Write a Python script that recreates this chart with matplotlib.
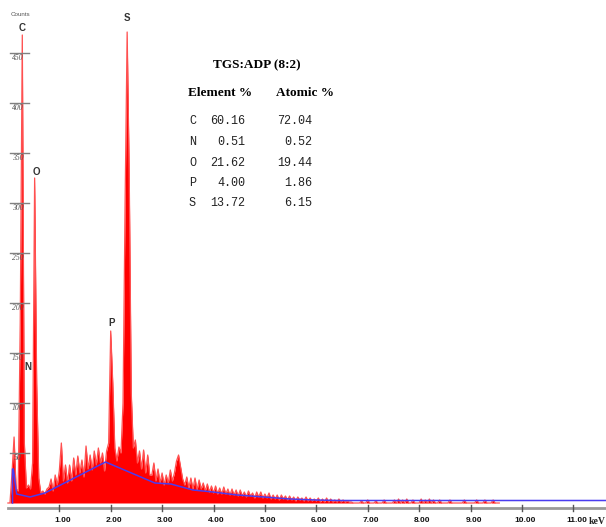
import numpy as np
import matplotlib.pyplot as plt
from matplotlib import font_manager

# EDS spectrum of TGS:ADP (8:2), counts per 0.04 keV channel
channel_kev = 0.04
counts = [
    0, 0, 30, 66, 14, 12, 180, 468, 60, 15,        # 0.00 - 0.36
    18, 14, 40, 325, 120, 25, 10, 12, 9, 14,       # 0.40 - 0.76
    16, 24, 12, 28, 18, 32, 60, 22, 38, 20,        # 0.80 - 1.16
    38, 22, 45, 28, 47, 30, 43, 26, 57, 34,        # 1.20 - 1.56
    48, 33, 52, 38, 55, 40, 50, 32, 52, 60,        # 1.60 - 1.96
    172, 120, 55, 42, 56, 50, 100, 300, 471, 330,  # 2.00 - 2.36
    110, 55, 63, 40, 52, 34, 53, 30, 48, 28,       # 2.40 - 2.76
    28, 40, 22, 34, 20, 30, 18, 28, 20, 33,        # 2.80 - 3.16
    22, 30, 42, 48, 36, 24, 18, 26, 15, 25,        # 3.20 - 3.56
    14, 25, 13, 23, 14, 20, 12, 19, 11, 17,        # 3.60 - 3.96
    10, 17, 9, 15, 9, 16, 9, 14, 8, 14,            # 4.00 - 4.36
    8, 13, 7, 13, 7, 11, 6, 12, 7, 10,             # 4.40 - 4.76
    5, 11, 6, 11, 5, 9, 5, 10, 4, 8,               # 4.80 - 5.16
    4, 8, 3, 8, 4, 7, 3, 7, 3, 6,                  # 5.20 - 5.56
    2, 6, 3, 5, 2, 6, 2, 5, 2, 4,                  # 5.60 - 5.96
    2, 5, 1, 4, 1, 5, 1, 4, 1, 3,                  # 6.00 - 6.36
    1, 4, 1, 3, 1, 2, 1, 1, 0, 0,                  # 6.40 - 6.76
    0, 0, 2, 0, 0, 3, 0, 0, 0, 2,                  # 6.80 - 7.16
    0, 0, 0, 3, 0, 0, 0, 0, 3, 0,                  # 7.20 - 7.56
    4, 0, 3, 0, 4, 0, 0, 3, 0, 0,                  # 7.60 - 7.96
    0, 4, 0, 3, 0, 4, 0, 3, 0, 0,                  # 8.00 - 8.36
    3, 0, 0, 0, 0, 3, 0, 0, 0, 0,                  # 8.40 - 8.76
    0, 0, 3, 0, 0, 0, 0, 0, 3, 0,                  # 8.80 - 9.16
    0, 0, 3, 0, 0, 0, 3, 0, 0, 0,                  # 9.20 - 9.56
]

# fitted background (blue line)
bg_kev = [0.09, 0.09, 0.105, 0.17, 0.43, 0.72, 1.90, 2.86, 3.17, 3.60,
          3.99, 4.46, 4.98, 5.49, 5.98, 6.46, 11.7]
bg_counts = [0, 34, 34, 9, 6, 10, 41, 20, 19, 13,
             11, 8, 6, 4, 3, 2.5, 2.5]

# quantification table
elements = ['C', 'N', 'O', 'P', 'S']
element_pct = ['60.16', '0.51', '21.62', '4.00', '13.72']
atomic_pct = ['72.04', '0.52', '19.44', '1.86', '6.15']

y_ticks = [50, 100, 150, 200, 250, 300, 350, 400, 450]
x_ticks = [1, 2, 3, 4, 5, 6, 7, 8, 9, 10, 11]

names = {f.name for f in font_manager.fontManager.ttflist}
narrow = 'Liberation Sans Narrow' if 'Liberation Sans Narrow' in names else 'Liberation Sans'

energy = np.arange(len(counts)) * channel_kev

fig = plt.figure(figsize=(6.06, 5.27), dpi=100)
ax = fig.add_axes([0, 0, 1, 1])
ax.set_xlim(-0.1537, 11.636)
ax.set_ylim(-24, 503)
ax.axis('off')

# spectrum
ax.fill_between(energy, counts, color='#ff0000', lw=0, zorder=2)
ax.plot(energy, counts, color='#ff5050', lw=0.9, zorder=2)
ax.plot(bg_kev, bg_counts, color='#4a3cf0', lw=1.1, zorder=3)

# x axis
ax.plot([0, 11.7], [-5, -5], color='#9a9a9a', lw=2, clip_on=False, zorder=1)
for k in x_ticks:
    ax.plot([k, k], [-2, -8], color='#555555', lw=1, zorder=1)
    ax.text(k + 0.06, -18, '%d.00' % k, ha='center', va='center',
            fontsize=6, fontweight='bold', family=narrow, color='#111111')
ax.text(11.62, -18, 'keV', ha='right', va='center', fontsize=7,
        fontweight='bold', family='Liberation Serif', color='#222222')

# y ticks
for v in y_ticks:
    ax.plot([0.04, 0.41], [v, v], color='#808080', lw=1, zorder=4)
    ax.text(0.19, v - 1.5, str(v), ha='center', va='top', fontsize=5.5,
            style='italic', family='Liberation Serif', color='#555555', zorder=4)
ax.text(0.235, 488, 'Counts', ha='center', va='center', fontsize=4.5,
        family=narrow, color='#555555')

# peak labels
peak_pos = {'C': (0.268, 475), 'N': (0.391, 136), 'O': (0.547, 331),
            'P': (2.025, 180), 'S': (2.317, 485)}
for name, (e, c) in peak_pos.items():
    ax.text(e, c, name, ha='center', va='center', fontsize=7,
            fontweight='bold', family=narrow, color='#333333', zorder=5)

# table
ax.text(4.846, 438, 'TGS:ADP (8:2)', ha='center', va='center', fontsize=9.5,
        fontweight='bold', family='Liberation Serif')
ax.text(3.504, 410, 'Element %', ha='left', va='center', fontsize=9.5,
        fontweight='bold', family='Liberation Serif')
ax.text(5.216, 410, 'Atomic %', ha='left', va='center', fontsize=9.5,
        fontweight='bold', family='Liberation Serif')
row_y = [382, 361, 340, 320, 300]
for el, wp, ap, y in zip(elements, element_pct, atomic_pct, row_y):
    ax.text(3.523, y, el, ha='left', va='center', fontsize=8.5,
            family='Liberation Mono', color='#222222')
    ax.text(4.613, y, wp, ha='right', va='center', fontsize=8.5,
            family='Liberation Mono', color='#222222')
    ax.text(5.916, y, ap, ha='right', va='center', fontsize=8.5,
            family='Liberation Mono', color='#222222')

fig.savefig('out.png', dpi=100)
